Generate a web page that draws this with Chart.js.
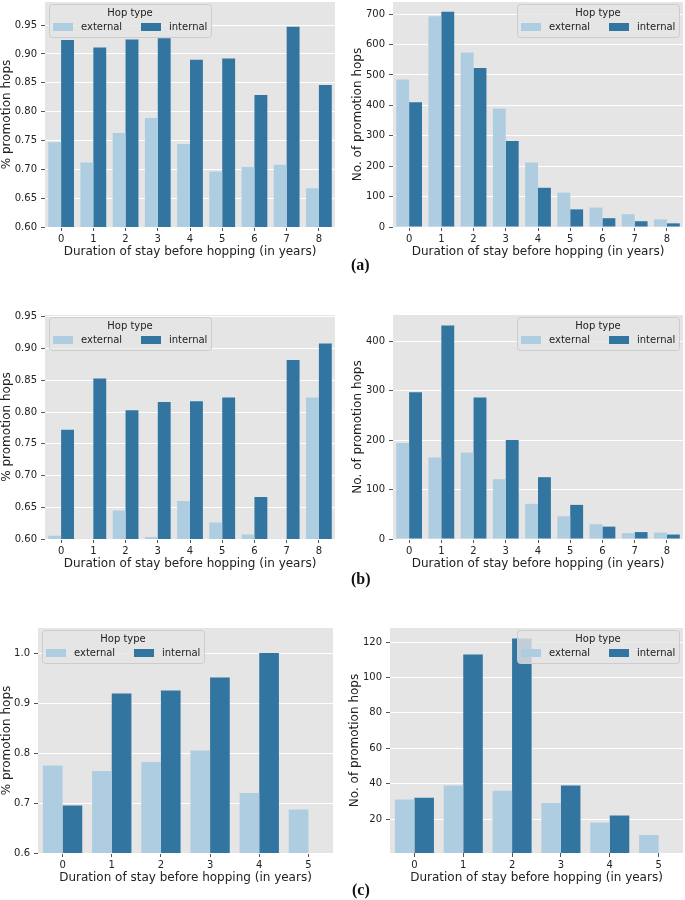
<!DOCTYPE html>
<html>
<head>
<meta charset="utf-8">
<script src="https://cdn.jsdelivr.net/npm/chart.js@4.4.1/dist/chart.umd.min.js"></script>
<style>
body { margin: 0; background: #fff; width: 685px; height: 900px; position: relative; overflow: hidden; }
.panel { position: absolute; }
.tag { position: absolute; font-family: "Liberation Serif", serif; font-weight: bold; font-size: 16px; color: #111; }
</style>
</head>
<body>
<div class="panel" style="left:0px;top:-6px;width:340px;height:265px"><canvas id="pctA"></canvas></div>
<div class="panel" style="left:351px;top:-6px;width:334px;height:265px"><canvas id="cntA"></canvas></div>
<div class="panel" style="left:0px;top:307px;width:340px;height:264px"><canvas id="pctB"></canvas></div>
<div class="panel" style="left:351px;top:307px;width:334px;height:264px"><canvas id="cntB"></canvas></div>
<div class="panel" style="left:0px;top:620px;width:338px;height:265px"><canvas id="pctC"></canvas></div>
<div class="panel" style="left:348px;top:620px;width:337px;height:265px"><canvas id="cntC"></canvas></div>
<div class="tag" style="left:351px;top:256px">(a)</div>
<div class="tag" style="left:351px;top:570px">(b)</div>
<div class="tag" style="left:352px;top:881px">(c)</div>
<script>
// categories
var years9 = ['0', '1', '2', '3', '4', '5', '6', '7', '8'];
var years6 = ['0', '1', '2', '3', '4', '5'];

// (a)
var pctExternalA = [0.747, 0.712, 0.763, 0.789, 0.744, 0.696, 0.704, 0.708, 0.667];
var pctInternalA = [0.924, 0.911, 0.925, 0.927, 0.890, 0.892, 0.829, 0.947, 0.846];
var cntExternalA = [485, 693, 574, 390, 212, 113, 64, 42, 25];
var cntInternalA = [410, 708, 523, 283, 129, 58, 29, 19, 12];

// (b)
var pctExternalB = [0.605, 0.58, 0.645, 0.603, 0.660, 0.626, 0.607, 0.58, 0.823];
var pctInternalB = [0.772, 0.853, 0.803, 0.816, 0.817, 0.823, 0.666, 0.882, 0.908];
var cntExternalB = [194, 165, 175, 121, 71, 46, 30, 12, 13];
var cntInternalB = [297, 432, 286, 200, 125, 69, 25, 14, 9];

// (c)
var pctExternalC = [0.775, 0.764, 0.782, 0.805, 0.720, 0.687];
var pctInternalC = [0.695, 0.919, 0.925, 0.951, 1.0, null];
var cntExternalC = [31, 39, 36, 29, 18, 11];
var cntInternalC = [32, 113, 122, 39, 22, null];

// tick labels
var pctTicksAB = [0.60, 0.65, 0.70, 0.75, 0.80, 0.85, 0.90, 0.95];
var cntTicksA = [0, 100, 200, 300, 400, 500, 600, 700];
var cntTicksB = [0, 100, 200, 300, 400];
var pctTicksC = [0.6, 0.7, 0.8, 0.9, 1.0];
var cntTicksC = [20, 40, 60, 80, 100, 120];

var lightBlue = '#afcde0';
var darkBlue = '#3375a1';
var textColor = '#222222';

Chart.defaults.font.family = '"DejaVu Sans", sans-serif';

// gray panel background
var panelBg = {
    id: 'panelBg',
    beforeDraw: function (chart) {
        var a = chart.chartArea;
        chart.ctx.save();
        chart.ctx.fillStyle = '#e5e5e5';
        chart.ctx.fillRect(a.left, a.top, a.right - a.left, a.bottom - a.top);
        chart.ctx.restore();
    }
};

// "Hop type" legend drawn inside the plot area
var hopLegend = {
    id: 'hopLegend',
    afterDatasetsDraw: function (chart, args, opts) {
        var a = chart.chartArea, ctx = chart.ctx;
        var w = 162, h = 33;
        var x = opts.side === 'right' ? a.right - 4 - w : a.left + 4;
        var y = a.top + 2;
        ctx.save();
        ctx.beginPath();
        ctx.roundRect(x + 0.5, y + 0.5, w, h, 3);
        ctx.fillStyle = 'rgba(229,229,229,0.8)';
        ctx.fill();
        ctx.strokeStyle = '#cccccc';
        ctx.lineWidth = 1;
        ctx.stroke();
        ctx.font = '10px "DejaVu Sans"';
        ctx.textBaseline = 'middle';
        ctx.textAlign = 'center';
        ctx.fillStyle = textColor;
        ctx.fillText('Hop type', x + w / 2, y + 9);
        ctx.textAlign = 'left';
        chart.data.datasets.forEach(function (ds, i) {
            var sx = x + 4 + i * 88;
            ctx.fillStyle = ds.backgroundColor;
            ctx.fillRect(sx, y + 19, 20, 8);
            ctx.fillStyle = textColor;
            ctx.fillText(ds.label, sx + 28, y + 23);
        });
        ctx.restore();
    }
};

function drawPanel(id, labels, ext, internal, ticks, yMin, yMax, yTitle, decimals, yWidth, padRight, side) {
    return new Chart(document.getElementById(id), {
        type: 'bar',
        data: {
            labels: labels,
            datasets: [{
                label: 'external',
                data: ext,
                backgroundColor: lightBlue,
                borderWidth: 0,
                clip: 0
            }, {
                label: 'internal',
                data: internal,
                backgroundColor: darkBlue,
                borderWidth: 0,
                clip: 0
            }]
        },
        options: {
            responsive: true,
            maintainAspectRatio: false,
            animation: false,
            layout: { padding: { top: 8, right: padRight, left: 0, bottom: 0 } },
            datasets: { bar: { categoryPercentage: 0.8, barPercentage: 1.0 } },
            plugins: {
                legend: { display: false },
                tooltip: { enabled: false },
                hopLegend: { side: side }
            },
            scales: {
                x: {
                    grid: { drawOnChartArea: false, offset: false, tickColor: '#555', tickLength: 4 },
                    border: { display: false },
                    ticks: { color: textColor, font: { size: 10 }, padding: 2, maxRotation: 0 },
                    title: { display: true, text: 'Duration of stay before hopping (in years)', color: textColor, font: { size: 12 }, padding: 0 },
                    afterFit: function (s) { s.height = 32; }
                },
                y: {
                    min: yMin,
                    max: yMax,
                    grid: { color: '#ffffff', tickColor: '#555', tickLength: 4 },
                    border: { display: false },
                    ticks: {
                        color: textColor, font: { size: 10 }, padding: 4,
                        callback: function (v) { return Number(v).toFixed(decimals); }
                    },
                    afterBuildTicks: function (s) {
                        s.ticks = ticks.map(function (v) { return { value: v }; });
                    },
                    title: { display: true, text: yTitle, color: textColor, font: { size: 12 }, padding: 0 },
                    afterFit: function (s) {
                        s.width = yWidth;
                        s.paddingTop = 0;
                        s.paddingBottom = 0;
                    }
                }
            }
        },
        plugins: [panelBg, hopLegend]
    });
}

drawPanel('pctA', years9, pctExternalA, pctInternalA, pctTicksAB, 0.6, 0.99, '% promotion hops', 2, 45, 5, 'left');
drawPanel('cntA', years9, cntExternalA, cntInternalA, cntTicksA, 0, 740, 'No. of promotion hops', 0, 42, 2, 'right');
drawPanel('pctB', years9, pctExternalB, pctInternalB, pctTicksAB, 0.6, 0.953, '% promotion hops', 2, 45, 5, 'left');
drawPanel('cntB', years9, cntExternalB, cntInternalB, cntTicksB, 0, 453, 'No. of promotion hops', 0, 42, 2, 'right');
drawPanel('pctC', years6, pctExternalC, pctInternalC, pctTicksC, 0.6, 1.05, '% promotion hops', 1, 38, 5, 'left');
drawPanel('cntC', years6, cntExternalC, cntInternalC, cntTicksC, 0.8, 128, 'No. of promotion hops', 0, 42, 2, 'right');
</script>
</body>
</html>
